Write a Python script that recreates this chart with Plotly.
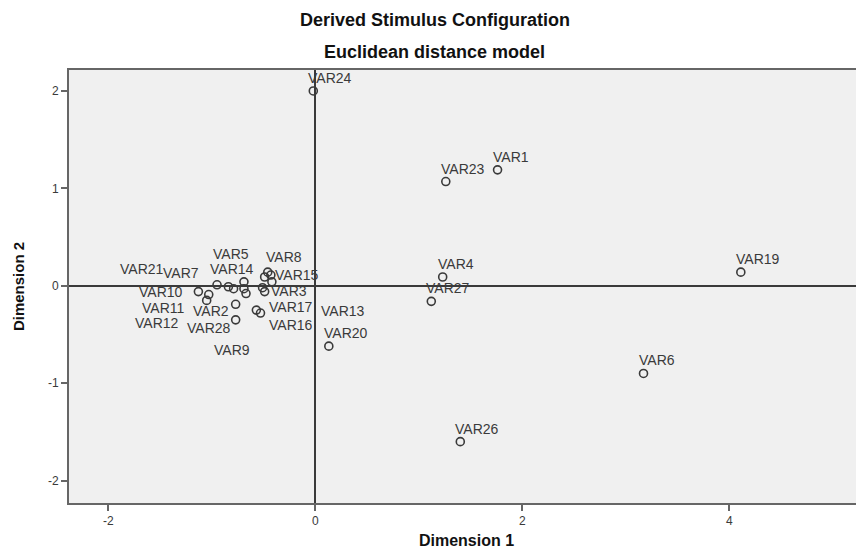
import plotly.graph_objects as go

# ---- data ----
names = ["VAR24", "VAR1", "VAR23", "VAR4", "VAR27", "VAR19", "VAR6", "VAR26", "VAR20",
         "VAR10", "VAR12", "VAR11", "VAR7", "VAR21", "VAR18", "VAR14", "VAR5", "VAR9",
         "VAR3", "VAR13", "VAR8", "VAR22", "VAR25", "VAR15", "VAR2", "VAR17", "VAR16", "VAR28"]
dim1 = [-0.02, 1.76, 1.26, 1.23, 1.12, 4.11, 3.17, 1.40, 0.13,
        -1.13, -1.03, -1.05, -0.95, -0.84, -0.79, -0.69, -0.69, -0.67,
        -0.51, -0.49, -0.46, -0.49, -0.43, -0.42, -0.77, -0.57, -0.53, -0.77]
dim2 = [2.00, 1.19, 1.07, 0.09, -0.16, 0.14, -0.90, -1.60, -0.62,
        -0.06, -0.09, -0.15, 0.01, -0.01, -0.03, 0.04, -0.03, -0.08,
        -0.02, -0.06, 0.14, 0.09, 0.11, 0.04, -0.19, -0.25, -0.28, -0.35]

x_ticks = [-2, 0, 2, 4]
y_ticks = [-2, -1, 0, 1, 2]

# label placement: (anchor, x pixel offset, y pixel offset); None = label suppressed
label_offsets = {
    "VAR10": ("right", -13, 0), "VAR11": ("right", -21, -8), "VAR12": ("right", -28, -28),
    "VAR7": ("right", -16, 12), "VAR21": ("right", -62, 18), "VAR14": ("center", -12, 13),
    "VAR5": ("center", -13, 35), "VAR9": ("center", -14, -56),
    "VAR8": ("left", -4, 15), "VAR15": ("left", 1, 7), "VAR3": ("left", 6, -3),
    "VAR13": ("left", 54, -19), "VAR17": ("left", 11, 3), "VAR16": ("left", 6, -12),
    "VAR2": ("right", -5, -7), "VAR28": ("right", -3, -8),
    "VAR18": None, "VAR22": None, "VAR25": None,
}
default_offset = ("left", -7, 13)

dark = "#3a3a3a"
FONT = "Liberation Sans, Arial, sans-serif"

fig = go.Figure()
fig.add_trace(go.Scatter(
    x=dim1, y=dim2, mode="markers",
    marker=dict(symbol="circle-open", size=8, color=dark, line=dict(width=1.6, color=dark)),
    hoverinfo="text", text=names, showlegend=False,
))

annotations = []
for n, xv, yv in zip(names, dim1, dim2):
    off = label_offsets.get(n, default_offset)
    if off is None:
        continue
    anchor, dx, dy = off
    annotations.append(dict(
        x=xv, y=yv, xref="x", yref="y", text=n, showarrow=False,
        xanchor=anchor, yanchor="middle", xshift=dx, yshift=dy,
        font=dict(family=FONT, size=14, color=dark),
    ))

annotations.append(dict(x=0.46, y=1, xref="paper", yref="paper", yanchor="middle", yshift=50,
                        text="<b>Derived Stimulus Configuration</b>", showarrow=False,
                        font=dict(family=FONT, size=18, color="#111")))
annotations.append(dict(x=0.46, y=1, xref="paper", yref="paper", yanchor="middle", yshift=18,
                        text="<b>Euclidean distance model</b>", showarrow=False,
                        font=dict(family=FONT, size=18, color="#111")))

axis_font = dict(family=FONT, size=12, color=dark)

fig.update_layout(
    width=856, height=548,
    margin=dict(l=61, r=0, t=62, b=53, autoexpand=False),
    paper_bgcolor="white", plot_bgcolor="#f0f0f0",
    annotations=annotations,
    xaxis=dict(range=[-2.38, 5.30], tickvals=x_ticks, ticktext=[str(v) for v in x_ticks],
               automargin=False,
               showgrid=False, zeroline=True, zerolinecolor=dark, zerolinewidth=2,
               showline=True, linecolor="#666", linewidth=2, mirror=True,
               ticks="outside", ticklen=6, tickcolor="#666", tickwidth=1.5,
               tickfont=axis_font,
               title=dict(text="<b>Dimension 1</b>", standoff=7,
                          font=dict(family=FONT, size=16, color="#111"))),
    yaxis=dict(range=[-2.23, 2.215], tickvals=y_ticks, ticktext=[str(v) for v in y_ticks],
               automargin=False,
               showgrid=False, zeroline=True, zerolinecolor=dark, zerolinewidth=2,
               showline=True, linecolor="#666", linewidth=2, mirror=False,
               ticks="outside", ticklen=6, tickcolor="#666", tickwidth=1.5,
               tickfont=axis_font,
               title=dict(text="<b>Dimension 2</b>", standoff=20,
                          font=dict(family=FONT, size=15, color="#111"))),
)

fig.write_html("out.html")
